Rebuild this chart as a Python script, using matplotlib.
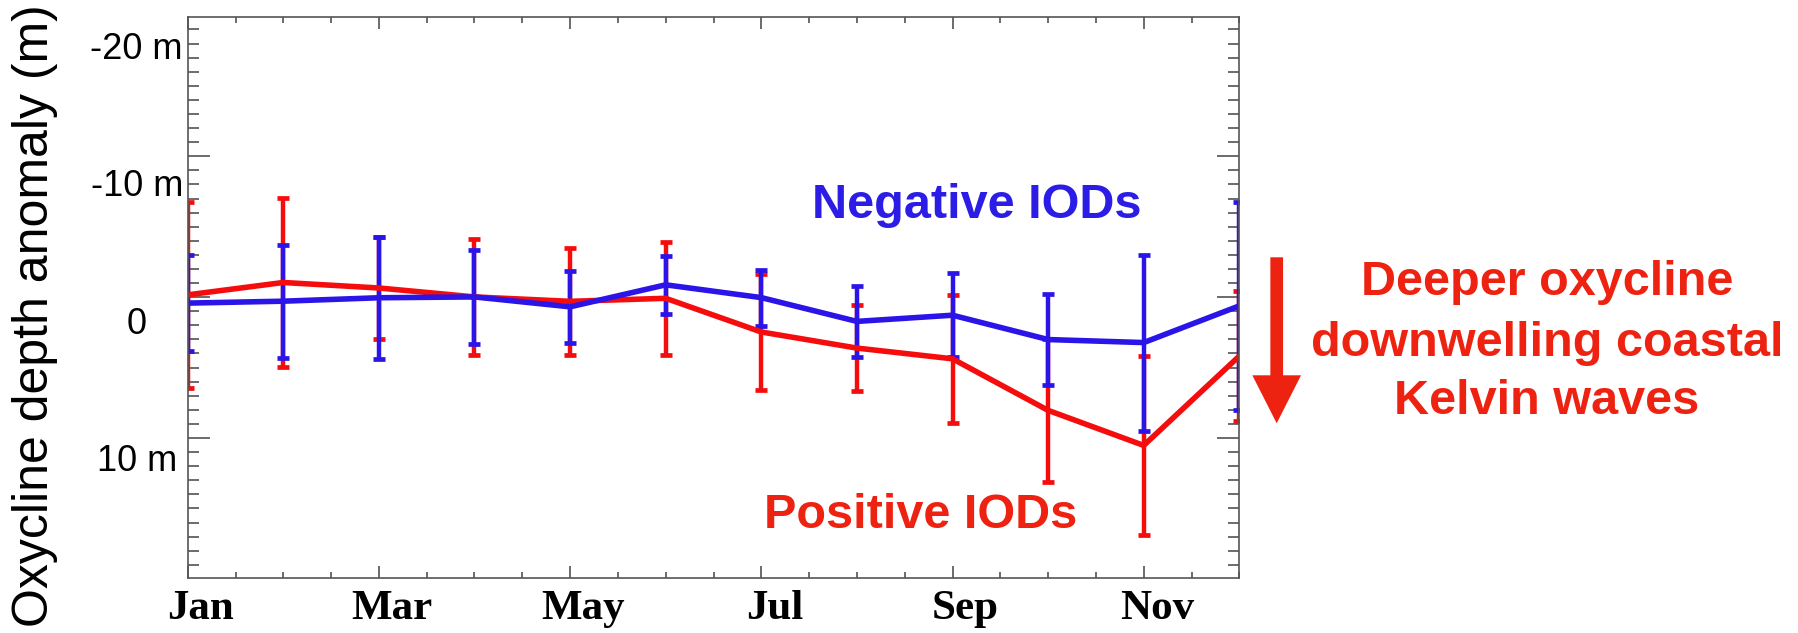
import numpy as np
import matplotlib
matplotlib.use('Agg')
import matplotlib.pyplot as plt
from matplotlib.patches import FancyArrow
from matplotlib.transforms import ScaledTranslation

# mois (Jan = 0 ... Dec = 11)
months = ['Jan', 'Feb', 'Mar', 'Apr', 'May', 'Jun',
          'Jul', 'Aug', 'Sep', 'Oct', 'Nov', 'Dec']

# anomalie de profondeur de l'oxycline (m), positif = plus profond
pos_iod = [-2.15, -3.05, -2.65, -2.0, -1.68, -1.9, 0.55, 1.72, 2.5, 6.25, 8.8, 2.3]
pos_iod_err = [6.75, 6.15, 3.7, 4.24, 3.9, 4.13, 4.2, 3.14, 4.65, 5.2, 6.5, 4.75]
neg_iod = [-1.55, -1.69, -1.94, -2.0, -1.28, -2.88, -1.95, -0.22, -0.67, 1.1, 1.32, -1.35]
neg_iod_err = [3.47, 4.12, 4.45, 3.41, 2.62, 2.12, 2.03, 2.6, 3.04, 3.3, 6.4, 7.57]

y_labels = ['-20 m', '-10 m', '0', '10 m']
y_label_vals = [-20, -10, 0, 10]

W, H = 1798, 633
RED = '#f50d0d'
BLUE = '#2a14e8'
TXT_RED = '#ee2211'
TXT_BLUE = '#2b1ce6'

def fx(px):
    return px / W

def fy(py):
    return 1 - py / H

plt.rcParams['font.family'] = ['Liberation Sans', 'DejaVu Sans']

fig = plt.figure(figsize=(W / 100, H / 100), dpi=100)
ax = fig.add_axes([fx(187.7), fy(577.7), (1239.3 - 187.7) / W, (577.7 - 16.7) / H])

x = np.arange(len(months))
ax.errorbar(x, pos_iod, yerr=pos_iod_err, color=RED, lw=4.0, elinewidth=3.2,
            capsize=4, capthick=3.4)
ax.errorbar(x, neg_iod, yerr=neg_iod_err, color=BLUE, lw=4.0, elinewidth=3.2,
            capsize=4, capthick=3.4)

ax.set_xlim(0, 11)
ax.set_ylim(18.42, -22.38)

for sp in ax.spines.values():
    sp.set_color('#555555')
    sp.set_linewidth(1.2)

# axe x : mois
ax.set_xticks(x[::2], months[::2])
ax.set_xticks(np.arange(0, 11.01, 0.5), minor=True)
ax.tick_params(axis='x', which='both', direction='in', top=True, bottom=True,
               color='#444444', width=1.1)
ax.tick_params(axis='x', which='major', length=8.5, pad=9)
ax.tick_params(axis='x', which='minor', length=4.5)
shift = ScaledTranslation(13 / 100, 0, fig.dpi_scale_trans)
for lab in ax.get_xticklabels():
    lab.set_fontfamily('Liberation Serif')
    lab.set_fontweight('bold')
    lab.set_fontsize(31)
    lab.set_transform(lab.get_transform() + shift)

# axe y : graduations du trace d'origine
step = 1.0245
ax.set_yticks(-12.23 + 10 * step * np.arange(0, 3))
ax.set_yticks(-12.23 + step * np.arange(-9, 30), minor=True)
ax.tick_params(axis='y', which='both', direction='in', left=True, right=True,
               labelleft=False, color='#444444', width=1.1)
ax.tick_params(axis='y', which='major', length=15.5)
ax.tick_params(axis='y', which='minor', length=8)

# etiquettes y ajoutees a la main
label_dx = [-4.7, -4.7, -40.7, -10.7]
for lab, val, dx in zip(y_labels, y_label_vals, label_dx):
    ax.annotate(lab, xy=(0, val), xycoords=('axes fraction', 'data'),
                xytext=(dx, 0), textcoords='offset pixels',
                ha='right', va='center', fontsize=26, color='black')

fig.text(fx(35), fy(316), 'Oxycline depth anomaly (m)', rotation=90,
         ha='center', va='center', fontsize=36)

fig.text(fx(977), fy(218.3), 'Negative IODs', ha='center', va='baseline',
         fontsize=35, fontweight='bold', color=TXT_BLUE)
fig.text(fx(920.7), fy(528.3), 'Positive IODs', ha='center', va='baseline',
         fontsize=35, fontweight='bold', color=TXT_RED)

right_lines = ['Deeper oxycline', 'downwelling coastal', 'Kelvin waves']
right_base = [295, 356, 414]
for txt, b in zip(right_lines, right_base):
    fig.text(fx(1547), fy(b), txt, ha='center', va='baseline',
             fontsize=35, fontweight='bold', color=TXT_RED)

# fleche vers le bas
arrow = FancyArrow(1276.7 / 100, (H - 257.3) / 100, 0, -(423.3 - 257.3) / 100,
                   width=12.7 / 100, head_width=48.7 / 100, head_length=48 / 100,
                   length_includes_head=True, color=TXT_RED, lw=0,
                   transform=fig.dpi_scale_trans)
fig.add_artist(arrow)

fig.savefig('out.png', dpi=100)
